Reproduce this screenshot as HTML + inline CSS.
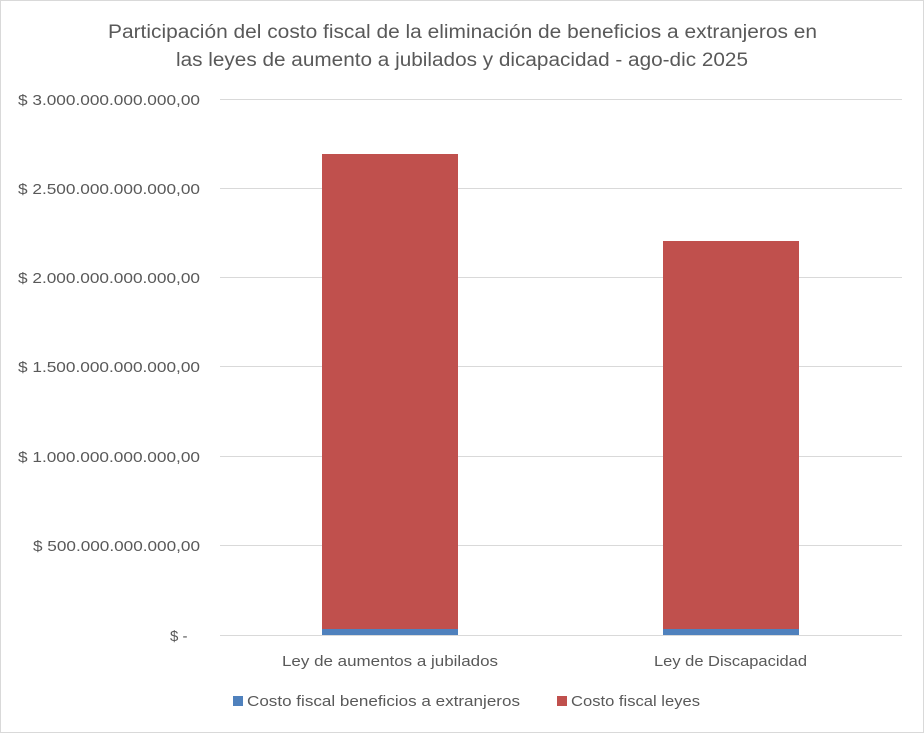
<!DOCTYPE html>
<html><head><meta charset="utf-8"><style>
body{margin:0;background:#fff;}
svg text{font-family:"Liberation Sans",sans-serif;fill:#595959;}
</style></head><body>
<svg width="924" height="733" viewBox="0 0 924 733" xmlns="http://www.w3.org/2000/svg">
<rect x="0.5" y="0.5" width="923" height="732" fill="#fff" stroke="#d9d9d9"/>
<text x="108" y="38" font-size="19" textLength="709" lengthAdjust="spacingAndGlyphs">Participación del costo fiscal de la eliminación de beneficios a extranjeros en</text>
<text x="176" y="66" font-size="19" textLength="572" lengthAdjust="spacingAndGlyphs">las leyes de aumento a jubilados y dicapacidad - ago-dic 2025</text>
<g stroke="#d9d9d9" stroke-width="1">
<line x1="220" x2="902" y1="99.5" y2="99.5"/>
<line x1="220" x2="902" y1="188.5" y2="188.5"/>
<line x1="220" x2="902" y1="277.5" y2="277.5"/>
<line x1="220" x2="902" y1="366.5" y2="366.5"/>
<line x1="220" x2="902" y1="456.5" y2="456.5"/>
<line x1="220" x2="902" y1="545.5" y2="545.5"/>
</g>
<g font-size="15">
<text x="18" y="105" textLength="182" lengthAdjust="spacingAndGlyphs">$ 3.000.000.000.000,00</text>
<text x="18" y="194" textLength="182" lengthAdjust="spacingAndGlyphs">$ 2.500.000.000.000,00</text>
<text x="18" y="283" textLength="182" lengthAdjust="spacingAndGlyphs">$ 2.000.000.000.000,00</text>
<text x="18" y="372" textLength="182" lengthAdjust="spacingAndGlyphs">$ 1.500.000.000.000,00</text>
<text x="18" y="462" textLength="182" lengthAdjust="spacingAndGlyphs">$ 1.000.000.000.000,00</text>
<text x="33" y="551" textLength="167" lengthAdjust="spacingAndGlyphs">$ 500.000.000.000,00</text>
<text x="170" y="641">$ -</text>
</g>
<rect x="322" y="154" width="136" height="475" fill="#c0504d"/>
<rect x="322" y="629" width="136" height="6" fill="#4f81bd"/>
<rect x="663" y="241" width="136" height="388" fill="#c0504d"/>
<rect x="663" y="629" width="136" height="6" fill="#4f81bd"/>
<line x1="220" x2="902" y1="635.5" y2="635.5" stroke="#d9d9d9"/>
<g font-size="15">
<text x="282" y="666" textLength="216" lengthAdjust="spacingAndGlyphs">Ley de aumentos a jubilados</text>
<text x="654" y="666" textLength="153" lengthAdjust="spacingAndGlyphs">Ley de Discapacidad</text>
</g>
<rect x="233" y="696" width="10" height="10" fill="#4f81bd"/>
<text x="247" y="706" font-size="15" textLength="273" lengthAdjust="spacingAndGlyphs">Costo fiscal beneficios a extranjeros</text>
<rect x="557" y="696" width="10" height="10" fill="#c0504d"/>
<text x="571" y="706" font-size="15" textLength="129" lengthAdjust="spacingAndGlyphs">Costo fiscal leyes</text>
</svg>
</body></html>
